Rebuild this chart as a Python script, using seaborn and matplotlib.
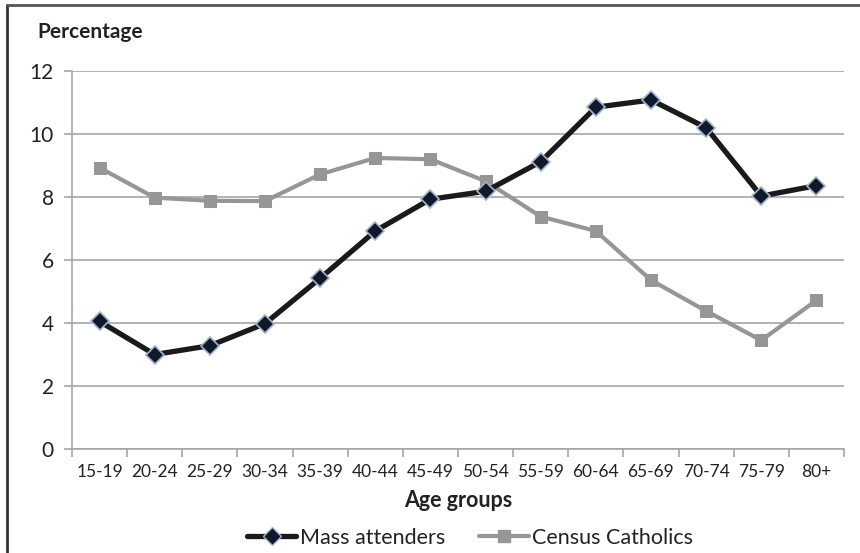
import pandas as pd
import numpy as np
import matplotlib
matplotlib.use('Agg')
import matplotlib.pyplot as plt
from matplotlib.lines import Line2D
from matplotlib.ticker import FixedLocator, NullFormatter
import seaborn as sns

age_groups = ['15-19', '20-24', '25-29', '30-34', '35-39', '40-44', '45-49',
              '50-54', '55-59', '60-64', '65-69', '70-74', '75-79', '80+']
mass_attenders = [4.05, 3.0, 3.28, 3.98, 5.42, 6.92, 7.93,
                  8.18, 9.12, 10.85, 11.08, 10.2, 8.03, 8.36]
census_catholics = [8.93, 7.98, 7.88, 7.87, 8.72, 9.24, 9.2,
                    8.5, 7.38, 6.92, 5.36, 4.38, 3.45, 4.72]

df = pd.DataFrame({
    'pos': list(range(len(age_groups))) * 2,
    'value': mass_attenders + census_catholics,
    'series': ['Mass attenders'] * len(age_groups) + ['Census Catholics'] * len(age_groups),
})

sns.set_style('white')
plt.rcParams['font.family'] = ['Lato', 'DejaVu Sans']

fig = plt.figure(figsize=(8.6, 5.53), dpi=100)
ax = fig.add_axes([72 / 860, 104 / 553, 772 / 860, 378 / 553])

palette = {'Mass attenders': '#1a1a1a', 'Census Catholics': '#969696'}
markers = {'Mass attenders': 'D', 'Census Catholics': 's'}
sns.lineplot(data=df, x='pos', y='value', hue='series', style='series',
             palette=palette, markers=markers, dashes=False, ax=ax,
             linewidth=3, markersize=8, legend=False)

# diamonds: dark navy with a light bluish edge, squares: plain gray
for ln in ax.lines:
    if ln.get_marker() == 'D':
        ln.set_linewidth(3.8)
        ln.set_markerfacecolor('#10182a')
        ln.set_markeredgecolor('#9fb4cc')
        ln.set_markeredgewidth(1.2)
        ln.set_markersize(9)
        ln.set_zorder(4)
    else:
        ln.set_markerfacecolor('#969696')
        ln.set_markeredgecolor('#969696')
        ln.set_markersize(8)
        ln.set_zorder(3)

ax.set_xlim(-0.5, len(age_groups) - 0.5)
ax.set_ylim(0, 12)
ax.set_yticks(range(0, 13, 2))
ax.yaxis.grid(True, color='#a6a6a6', linewidth=1.2)
ax.set_axisbelow(True)

ax.xaxis.set_major_locator(FixedLocator(np.arange(-0.5, len(age_groups), 1.0)))
ax.xaxis.set_major_formatter(NullFormatter())
ax.xaxis.set_minor_locator(FixedLocator(range(len(age_groups))))
ax.set_xticklabels(age_groups, minor=True)
ax.tick_params(axis='x', which='major', length=6, width=1.2, color='#a6a6a6', direction='out', bottom=True)
ax.tick_params(axis='x', which='minor', length=0, pad=11, labelsize=12.5, labelcolor='#222222')
ax.tick_params(axis='y', length=6, width=1.2, color='#a6a6a6', direction='out', left=True,
               labelsize=15, labelcolor='#222222', pad=7)

for side in ['top', 'right']:
    ax.spines[side].set_visible(False)
for side in ['left', 'bottom']:
    ax.spines[side].set_color('#a6a6a6')
    ax.spines[side].set_linewidth(1.2)

ax.set_xlabel('Age groups', fontsize=15.5, fontweight='bold', color='#222222', labelpad=7)
ax.set_ylabel('')
fig.text(37 / 860, 1 - 32 / 553, 'Percentage', fontsize=15, fontweight='bold',
         color='#222222', va='center', ha='left')

handles = [
    Line2D([], [], color='#1a1a1a', linewidth=3.8, marker='D', markersize=9,
           markerfacecolor='#10182a', markeredgecolor='#9fb4cc'),
    Line2D([], [], color='#969696', linewidth=3, marker='s', markersize=8,
           markerfacecolor='#969696', markeredgecolor='#969696'),
]
fig.legend(handles, ['Mass attenders', 'Census Catholics'], loc='center',
           bbox_to_anchor=(470 / 860, 1 - 538 / 553), ncol=2, frameon=False,
           fontsize=15.5, handlelength=2.3, handletextpad=0.15, columnspacing=1.6,
           labelcolor='#222222', borderpad=0)

# outer frame (top and left edges visible)
fig.add_artist(Line2D([7 / 860, 7 / 860], [0, 1 - 5 / 553], color='#333333', linewidth=2,
                      transform=fig.transFigure))
fig.add_artist(Line2D([7 / 860, 1], [1 - 5 / 553, 1 - 5 / 553], color='#555555', linewidth=2,
                      transform=fig.transFigure))

fig.savefig('out.png', dpi=100)
